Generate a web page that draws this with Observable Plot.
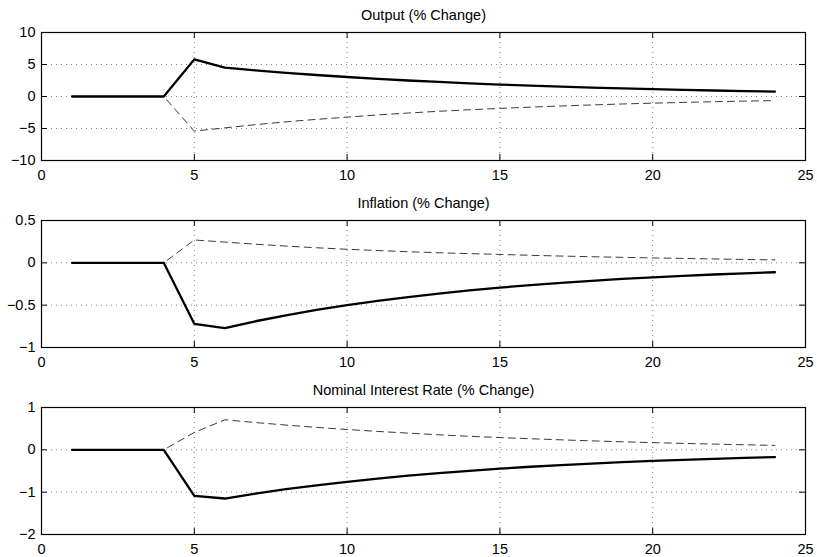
<!DOCTYPE html>
<html>
<head>
<meta charset="utf-8">
<script src="https://cdn.jsdelivr.net/npm/d3@7"></script>
<script src="https://cdn.jsdelivr.net/npm/@observablehq/plot@0.6"></script>
<style>
  html, body { margin: 0; padding: 0; background: white; }
  #chart { width: 817px; height: 557px; overflow: hidden; }
  #chart svg { display: block; }
</style>
</head>
<body>
<div id="chart"></div>
<script>
// ---- data ----
const periods = [1,2,3,4,5,6,7,8,9,10,11,12,13,14,15,16,17,18,19,20,21,22,23,24];

const titles = ["Output (% Change)", "Inflation (% Change)", "Nominal Interest Rate (% Change)"];

const outputSolid  = [0,0,0,0,5.8,4.5,4.08,3.7,3.36,3.05,2.76,2.5,2.27,2.06,1.87,1.69,1.53,1.39,1.26,1.14,1.03,0.94,0.85,0.77];
const outputDashed = [0,0,0,0,-5.4,-4.9,-4.4,-3.96,-3.57,-3.22,-2.88,-2.58,-2.31,-2.07,-1.86,-1.66,-1.48,-1.32,-1.17,-1.04,-0.92,-0.82,-0.72,-0.64];

const inflSolid  = [0,0,0,0,-0.72,-0.77,-0.69,-0.62,-0.556,-0.5,-0.45,-0.404,-0.363,-0.326,-0.293,-0.263,-0.236,-0.212,-0.19,-0.171,-0.154,-0.138,-0.124,-0.111];
const inflDashed = [0,0,0,0,0.27,0.245,0.22,0.198,0.178,0.16,0.145,0.131,0.119,0.109,0.099,0.089,0.08,0.072,0.065,0.058,0.052,0.046,0.04,0.035];

const rateSolid  = [0,0,0,0,-1.09,-1.15,-1.035,-0.93,-0.84,-0.755,-0.68,-0.61,-0.55,-0.495,-0.445,-0.4,-0.36,-0.325,-0.29,-0.262,-0.236,-0.212,-0.19,-0.172];
const rateDashed = [0,0,0,0,0.41,0.71,0.645,0.585,0.53,0.48,0.435,0.395,0.355,0.32,0.29,0.262,0.236,0.212,0.19,0.17,0.152,0.136,0.12,0.105];

const xTicks = [0,5,10,15,20,25];
const yTicksOutput = [-10,-5,0,5,10];
const yTicksInfl = [-1,-0.5,0,0.5];
const yTicksRate = [-2,-1,0,1];

// ---- drawing ----
const W = 817, ML = 41, MR = 12;
const IW = W - ML - MR;
const fmt = d3.format("");
const font = "'Liberation Sans', Arial, Helvetica, sans-serif";

function panel(title, solid, dashed, yTicks, marginTop, boxH, marginBottom) {
  const data = periods.map((t, i) => ({t, s: solid[i], d: dashed[i]}));
  const yDomain = [yTicks[0], yTicks[yTicks.length - 1]];
  const innerX = xTicks.slice(1, -1);
  const innerY = yTicks.slice(1, -1);
  return Plot.plot({
    width: W,
    height: marginTop + boxH + marginBottom,
    marginLeft: ML, marginRight: MR, marginTop, marginBottom,
    style: {fontFamily: font, fontSize: "14px", background: "white", color: "black", overflow: "visible"},
    x: {domain: [0, 25], label: null},
    y: {domain: yDomain, label: null},
    marks: [
      Plot.gridX(innerX, {x: d => d, stroke: "#666", strokeOpacity: 0.8, strokeWidth: 1, strokeDasharray: "1,4"}),
      Plot.gridY(innerY, {y: d => d, stroke: "#666", strokeOpacity: 0.8, strokeWidth: 1, strokeDasharray: "1,4"}),
      Plot.tickX(innerX, {x: d => d, insetTop: boxH - 6, stroke: "black"}),
      Plot.tickX(innerX, {x: d => d, insetBottom: boxH - 6, stroke: "black"}),
      Plot.tickY(innerY, {y: d => d, insetRight: IW - 6, stroke: "black"}),
      Plot.tickY(innerY, {y: d => d, insetLeft: IW - 6, stroke: "black"}),
      Plot.line(data, {x: "t", y: "d", stroke: "#222", strokeWidth: 0.9, strokeDasharray: "7,5"}),
      Plot.line(data, {x: "t", y: "s", stroke: "black", strokeWidth: 2.3}),
      Plot.frame({stroke: "black", strokeWidth: 1.2}),
      Plot.axisX(xTicks, {tickSize: 0, tickPadding: 9, tickFormat: fmt, label: null, fontSize: 14.5}),
      Plot.axisY(yTicks, {tickSize: 0, tickPadding: 6, tickFormat: fmt, label: null, fontSize: 14.5}),
      Plot.text([title], {text: d => d, frameAnchor: "top", dy: -17, lineAnchor: "middle", fontSize: 14.5})
    ]
  });
}

const chart = document.getElementById("chart");
chart.append(panel(titles[0], outputSolid, outputDashed, yTicksOutput, 32, 128, 26));
chart.append(panel(titles[1], inflSolid, inflDashed, yTicksInfl, 34, 127, 23));
chart.append(panel(titles[2], rateSolid, rateDashed, yTicksRate, 37, 127, 23));
</script>
</body>
</html>
